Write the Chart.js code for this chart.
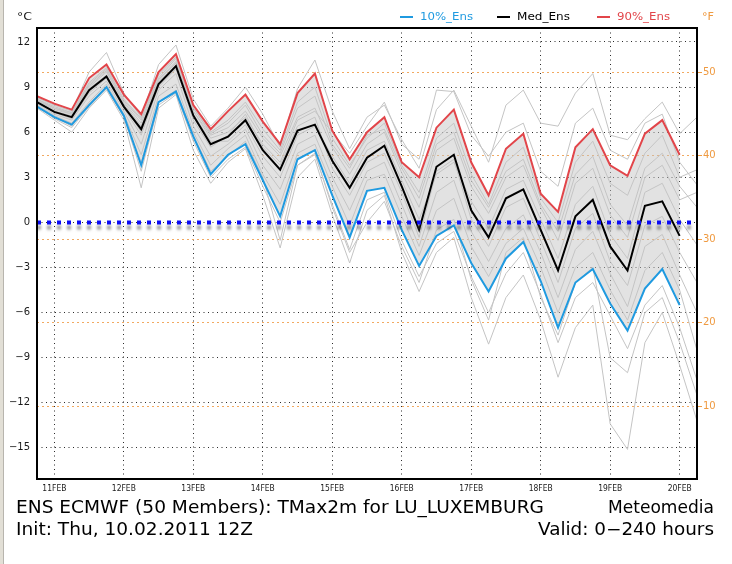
<!DOCTYPE html>
<html>
<head>
<meta charset="utf-8">
<script src="https://cdn.jsdelivr.net/npm/chart.js@4.4.1/dist/chart.umd.min.js"></script>
<style>
  html, body { margin: 0; padding: 0; background: #fff; }
  canvas { display: block; }
</style>
</head>
<body>
<canvas id="ens" width="732" height="564"></canvas>
<script>
/* ===== data (hours after 11FEB 00Z, 6-hourly steps) ===== */
const hours = [-6, 0, 6, 12, 18, 24, 30, 36, 42, 48, 54, 60, 66, 72, 78, 84, 90, 96, 102,
    108, 114, 120, 126, 132, 138, 144, 150, 156, 162, 168, 174, 180, 186, 192, 198, 204, 210, 216, 222];
const dayHours = [0, 24, 48, 72, 96, 120, 144, 168, 192, 216];
const dayLabels = ['11FEB', '12FEB', '13FEB', '14FEB', '15FEB', '16FEB', '17FEB', '18FEB', '19FEB', '20FEB'];
const cTicks = [-15, -12, -9, -6, -3, 0, 3, 6, 9, 12];
const fTicks = [10, 20, 30, 40, 50];

const p90 = [8.4, 7.9, 7.5, 9.6, 10.5, 8.5, 7.2, 10.0, 11.2, 7.8, 6.2, 7.4, 8.5, 6.7, 5.2, 8.6, 9.9, 6.1, 4.2,
    6.0, 7.0, 4.0, 3.0, 6.3, 7.5, 4.0, 1.8, 4.9, 5.9, 1.9, 0.7, 5.0, 6.2, 3.8, 3.1, 5.9, 6.8, 4.5];
const med = [8.0, 7.35, 7.0, 8.8, 9.7, 7.7, 6.2, 9.2, 10.4, 7.1, 5.2, 5.7, 6.8, 4.8, 3.5, 6.1, 6.5, 4.1, 2.3,
    4.3, 5.1, 2.4, -0.5, 3.7, 4.5, 0.8, -1.0, 1.6, 2.2, -0.5, -3.2, 0.4, 1.5, -1.6, -3.2, 1.1, 1.4, -0.9];
const p10 = [7.7, 7.0, 6.5, 7.8, 9.0, 7.1, 3.8, 8.0, 8.7, 5.7, 3.2, 4.5, 5.2, 2.8, 0.4, 4.2, 4.8, 1.8, -1.0,
    2.1, 2.3, -0.5, -2.9, -0.9, -0.2, -2.7, -4.6, -2.4, -1.3, -3.9, -7.0, -4.0, -3.1, -5.4, -7.2, -4.4, -3.1, -5.5];

// a selection of the single ensemble members (grey)
const members = [
    [8.3, 7.8, 7.4, 10.0, 11.3, 8.6, 7.0, 10.5, 11.8, 8.2, 6.4, 7.6, 9.0, 7.2, 5.0, 8.9, 10.8, 7.4, 4.9,
        7.0, 7.8, 5.5, 3.6, 7.5, 8.8, 6.4, 4.0, 7.8, 8.8, 6.6, 6.4, 8.6, 9.9, 5.8, 5.5, 6.9, 8.0, 5.9, 7.0],
    [7.6, 6.8, 6.0, 7.6, 8.8, 6.8, 2.3, 7.6, 8.5, 4.8, 2.6, 4.0, 4.9, 1.8, -1.7, 3.0, 4.2, 0.5, -2.7,
        0.8, 1.8, -2.0, -4.6, -2.0, -1.0, -5.0, -8.1, -5.0, -3.5, -6.5, -10.3, -7.0, -5.5, -13.4, -15.1, -8.0, -6.0, -9.5, -13.2],
    [8.1, 7.5, 7.2, 9.0, 10.0, 8.0, 6.6, 9.5, 10.7, 7.4, 5.8, 6.3, 7.4, 5.6, 4.4, 7.0, 7.6, 5.0, 3.2,
        5.2, 6.0, 3.3, 1.0, 4.8, 5.6, 2.4, 0.6, 3.0, 3.8, 1.0, -1.2, 2.6, 3.6, 0.5, -1.0, 3.0, 3.8, 1.5, 2.0],
    [7.9, 7.2, 6.8, 8.4, 9.4, 7.4, 5.2, 8.8, 9.9, 6.4, 4.4, 5.2, 6.2, 3.8, 2.2, 5.2, 5.8, 3.0, 0.8,
        3.4, 4.0, 1.2, -1.6, 2.0, 2.8, -0.6, -2.6, -0.4, 0.5, -2.0, -5.0, -1.8, -0.6, -3.4, -5.6, -1.6, -0.8, -3.5, -6.0],
    [8.2, 7.7, 7.3, 9.3, 10.3, 8.2, 6.9, 9.8, 11.0, 7.6, 6.0, 6.8, 8.0, 6.2, 4.8, 8.0, 9.0, 5.6, 3.8,
        5.6, 6.6, 3.8, 2.0, 5.6, 6.6, 3.2, 1.2, 4.0, 5.0, 1.6, 0.0, 4.0, 5.4, 2.6, 1.8, 4.6, 5.8, 3.0, 3.5],
    [7.8, 7.1, 6.6, 8.0, 9.2, 7.2, 4.5, 8.4, 9.2, 6.0, 3.8, 4.9, 5.8, 3.2, 1.2, 4.6, 5.2, 2.4, -0.2,
        2.8, 3.2, 0.4, -2.2, 0.8, 1.6, -1.6, -3.6, -1.4, -0.4, -3.0, -6.0, -3.0, -2.0, -4.5, -6.5, -3.2, -2.0, -4.5, -8.5],
    [8.0, 7.4, 7.1, 8.9, 9.8, 7.8, 6.0, 9.0, 10.2, 7.2, 5.4, 5.4, 6.5, 4.4, 3.0, 5.8, 6.4, 4.4, 2.6,
        4.8, 5.4, 2.8, 0.2, 3.2, 4.0, 1.4, -0.4, 2.2, 2.8, 0.2, -2.4, 1.2, 2.4, -0.8, -2.4, 2.0, 2.6, 0.2, -1.5],
    [8.1, 7.6, 7.2, 9.1, 10.1, 7.9, 6.4, 9.4, 10.6, 7.4, 5.6, 6.0, 7.0, 5.2, 4.0, 6.8, 7.4, 6.0, 4.6,
        6.4, 8.0, 5.2, 4.2, 8.8, 8.7, 5.8, 4.4, 6.0, 6.6, 3.4, 2.4, 6.6, 7.6, 4.8, 4.2, 6.6, 7.2, 4.0, 2.5],
    [7.7, 6.9, 6.3, 7.7, 8.9, 7.0, 3.4, 7.8, 8.6, 5.4, 3.0, 4.2, 5.0, 2.4, 0.0, 3.8, 4.5, 1.2, -1.8,
        1.5, 2.0, -1.2, -3.6, -1.4, -0.6, -3.6, -6.0, -3.4, -2.0, -4.8, -8.0, -5.0, -4.0, -6.2, -8.4, -5.5, -4.2, -7.0, -10.5],
    [7.7, 7.0, 6.4, 7.9, 9.0, 7.0, 4.0, 8.0, 8.8, 5.8, 3.4, 4.4, 5.4, 3.0, -1.2, 3.8, 4.6, 1.0, -2.0,
        0.0, 1.4, -1.6, -4.0, -0.5, 0.2, -3.8, -6.5, -2.0, -1.0, -5.0, -7.5, -4.0, -3.0, -9.0, -10.0, -6.0, -5.0, -8.0, -11.5],
    [8.0, 7.3, 6.9, 8.6, 9.6, 7.6, 5.8, 9.1, 10.3, 6.8, 5.0, 5.8, 7.2, 5.0, 3.8, 6.4, 7.0, 3.6, 1.8,
        4.0, 4.6, 2.0, -1.0, 3.4, 4.2, 0.2, -1.6, 1.0, 1.6, -1.2, -4.0, -0.4, 0.6, -2.6, -4.2, -0.2, 0.4, -2.0, -4.0],
    [8.2, 7.6, 7.3, 9.2, 10.2, 8.1, 6.8, 9.6, 10.9, 7.6, 5.9, 6.6, 7.8, 5.8, 4.6, 7.6, 8.4, 5.2, 3.6,
        5.8, 6.2, 3.6, 1.6, 5.2, 6.0, 2.8, 1.0, 3.4, 4.2, 1.2, -0.6, 3.2, 4.4, 1.2, -0.2, 3.6, 4.6, 2.4, 1.0]
];

/* ===== style ===== */
const C = {
    p10: '#1f9ae0',
    med: '#000000',
    p90: '#e2454a',
    member: '#c4c4c4',
    band: 'rgba(195,195,195,0.48)',
    grid: '#2a2a2a',
    orange: '#ef9a40',
    orangeGrid: 'rgba(240,160,80,0.9)',
    zero: '#0b0bf5',
    text: '#1a1a1a'
};
const FONT = "'DejaVu Sans', sans-serif";
const cMin = -17.07, cMax = 12.93;
const toF = c => c * 1.8 + 32;

const pts = arr => arr.map((v, i) => ({ x: hours[i], y: v }));

// text squeezed / stretched to a given width
function fitText(ctx, txt, x, y, w, align) {
    const m = ctx.measureText(txt).width;
    ctx.save();
    ctx.translate(x, y);
    ctx.scale(w / m, 1);
    ctx.textAlign = align;
    ctx.fillText(txt, 0, 0);
    ctx.restore();
}

const decor = {
    id: 'decor',
    afterDatasetsDraw(chart) {
        const { ctx, chartArea: a, scales } = chart;
        const y0 = scales.y.getPixelForValue(0);
        ctx.save();
        ctx.beginPath();
        ctx.rect(a.left, a.top, a.right - a.left, a.bottom - a.top);
        ctx.clip();
        ctx.strokeStyle = C.zero;
        ctx.lineWidth = 4;
        ctx.setLineDash([4, 6]);
        ctx.shadowColor = 'rgba(60,60,60,0.55)';
        ctx.shadowOffsetY = 5;
        ctx.shadowBlur = 3;
        ctx.beginPath();
        ctx.moveTo(a.left, y0);
        ctx.lineTo(a.right - 6, y0);
        ctx.stroke();
        ctx.restore();
    },
    afterDraw(chart) {
        const { ctx, chartArea: a, scales } = chart;
        ctx.save();
        // window edge on the left
        ctx.fillStyle = '#e2dfd6';
        ctx.fillRect(0, 0, 3, 564);
        ctx.fillStyle = '#b8b5ae';
        ctx.fillRect(3, 0, 1, 564);

        // frame
        ctx.strokeStyle = '#000';
        ctx.lineWidth = 2;
        ctx.setLineDash([]);
        ctx.strokeRect(a.left, a.top, a.right - a.left, a.bottom - a.top);

        // day labels
        ctx.fillStyle = C.text;
        ctx.textBaseline = 'middle';
        ctx.font = '9px ' + FONT;
        dayHours.forEach((h, i) => {
            fitText(ctx, dayLabels[i], scales.x.getPixelForValue(h), 489, 24, 'center');
        });

        // units and legend
        ctx.font = '11px ' + FONT;
        fitText(ctx, '°C', 17, 17, 15, 'left');
        const leg = [
            { c: C.p10, t: '10%_Ens', x: 400 },
            { c: C.med, t: 'Med_Ens', x: 497 },
            { c: C.p90, t: '90%_Ens', x: 597 }
        ];
        leg.forEach(l => {
            ctx.strokeStyle = l.c;
            ctx.lineWidth = 2;
            ctx.beginPath();
            ctx.moveTo(l.x, 17);
            ctx.lineTo(l.x + 13, 17);
            ctx.stroke();
            ctx.fillStyle = l.c;
            fitText(ctx, l.t, l.x + 20, 17, 53, 'left');
        });
        ctx.fillStyle = C.orange;
        fitText(ctx, '°F', 702, 17, 12, 'left');

        // titles
        ctx.fillStyle = '#000';
        ctx.font = '17px ' + FONT;
        fitText(ctx, 'ENS ECMWF (50 Members): TMax2m for LU_LUXEMBURG', 16, 509, 528, 'left');
        fitText(ctx, 'Meteomedia', 714, 509, 106, 'right');
        fitText(ctx, 'Init: Thu, 10.02.2011 12Z', 16, 531, 237, 'left');
        fitText(ctx, 'Valid: 0\u2212240 hours', 714, 531, 176, 'right');
        ctx.restore();
    }
};

const datasets = [
    { label: '90%_Ens', data: pts(p90), borderColor: C.p90, borderWidth: 2,
        fill: { target: 2 }, backgroundColor: C.band },
    { label: 'Med_Ens', data: pts(med), borderColor: C.med, borderWidth: 2, fill: false },
    { label: '10%_Ens', data: pts(p10), borderColor: C.p10, borderWidth: 2, fill: false }
].concat(members.map((m, k) => ({
    label: 'member ' + (k + 1), data: pts(m), borderColor: C.member, borderWidth: 1, fill: false
})));

new Chart(document.getElementById('ens'), {
    type: 'line',
    data: { datasets },
    plugins: [decor],
    options: {
        responsive: false,
        animation: false,
        devicePixelRatio: 1,
        layout: { padding: { top: 28, left: 0, right: 0, bottom: 0 } },
        elements: { point: { radius: 0 }, line: { tension: 0 } },
        plugins: {
            legend: { display: false },
            tooltip: { enabled: false },
            filler: { drawTime: 'beforeDatasetsDraw' }
        },
        scales: {
            x: {
                type: 'linear', min: -6, max: 222,
                afterBuildTicks: s => { s.ticks = dayHours.map(v => ({ value: v })); },
                afterFit: s => { s.height = 85; },
                ticks: { display: false },
                grid: { color: C.grid, drawTicks: false },
                border: { display: false, dash: [1, 3.5] }
            },
            y: {
                type: 'linear', position: 'left', min: cMin, max: cMax,
                afterBuildTicks: s => { s.ticks = cTicks.map(v => ({ value: v })); },
                afterFit: s => { s.width = 37; },
                ticks: {
                    color: C.text, padding: 7, font: { family: FONT, size: 10 },
                    callback: v => String(v).replace('-', '\u2212')
                },
                grid: { color: C.grid, drawTicks: false },
                border: { display: false, dash: [1, 3.5] }
            },
            yF: {
                type: 'linear', position: 'right', min: toF(cMin), max: toF(cMax),
                afterBuildTicks: s => { s.ticks = fTicks.map(v => ({ value: v })); },
                afterFit: s => { s.width = 35; },
                ticks: { color: C.orange, padding: 1, font: { family: FONT, size: 10 } },
                grid: { color: C.orangeGrid, drawTicks: true, tickLength: 5, tickColor: C.orange },
                border: { display: false, dash: [2, 3] }
            }
        }
    }
});
</script>
</body>
</html>
